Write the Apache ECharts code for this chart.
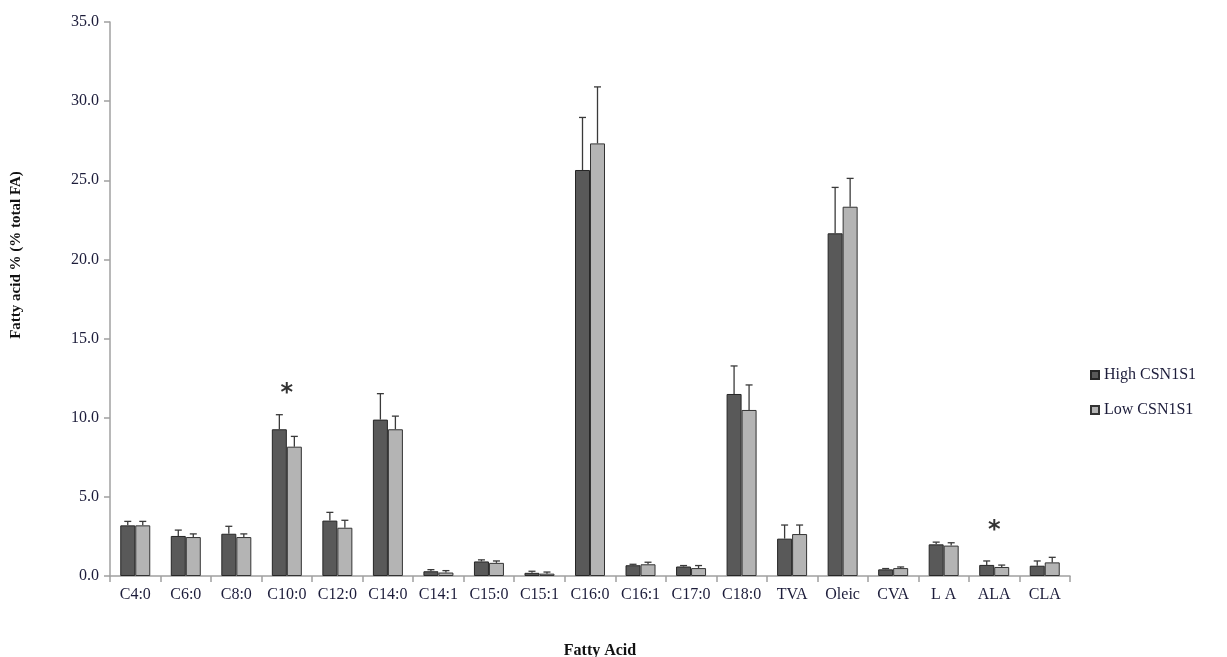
<!DOCTYPE html>
<html><head><meta charset="utf-8">
<script src="https://cdn.jsdelivr.net/npm/echarts@6/dist/echarts.min.js"></script>
<style>html,body{margin:0;padding:0;background:#fff}#c{width:1227px;height:657px}</style>
</head><body><div id="c"></div>
<script>
var categories = ['C4:0','C6:0','C8:0','C10:0','C12:0','C14:0','C14:1','C15:0','C15:1','C16:0','C16:1','C17:0','C18:0','TVA','Oleic','CVA','L A','ALA','CLA'];
var highValues = [3.2, 2.53, 2.67, 9.27, 3.5, 9.88, 0.3, 0.92, 0.2, 25.65, 0.68, 0.6, 11.5, 2.36, 21.65, 0.42, 2.0, 0.7, 0.65];
var highErr    = [0.25, 0.37, 0.47, 0.92, 0.52, 1.64, 0.1, 0.1, 0.1, 3.32, 0.06, 0.06, 1.77, 0.86, 2.9, 0.05, 0.14, 0.25, 0.3];
var lowValues  = [3.2, 2.46, 2.46, 8.17, 3.05, 9.27, 0.22, 0.83, 0.15, 27.33, 0.74, 0.5, 10.49, 2.65, 23.33, 0.5, 1.92, 0.57, 0.86];
var lowErr     = [0.25, 0.2, 0.2, 0.65, 0.47, 0.83, 0.12, 0.12, 0.1, 3.57, 0.13, 0.16, 1.58, 0.57, 1.79, 0.07, 0.18, 0.12, 0.32];
var seriesNames = ['High CSN1S1','Low CSN1S1'];
var sigCategories = ['C10:0','ALA'];
var sigValues = [11.8, 3.2];
var yTicks = [0,5,10,15,20,25,30,35];

var BW = 15;
var font = 'Liberation Serif';
var textColor = '#1c1c3a';

function errSeries(vals, errs, shift) {
  return {
    type: 'custom',
    silent: true,
    z: 5,
    data: vals.map(function(v, i){ return [i, v, v + errs[i]]; }),
    renderItem: function(params, api){
      var i = api.value(0);
      var p0 = api.coord([i, api.value(1)]);
      var p1 = api.coord([i, api.value(2)]);
      var x = p0[0] + shift;
      var st = {stroke:'#3a3a3a', lineWidth:1.3};
      return {type:'group', children:[
        {type:'line', shape:{x1:x, y1:p0[1], x2:x, y2:p1[1]}, style:st},
        {type:'line', shape:{x1:x-3.5, y1:p1[1], x2:x+3.5, y2:p1[1]}, style:st}
      ]};
    }
  };
}

var chart = echarts.init(document.getElementById('c'));
chart.setOption({
  animation:false,
  backgroundColor:'#fff',
  grid:{left:110, right:157, top:22, bottom:81, containLabel:false, outerBoundsMode:'none'},
  legend:{
    orient:'vertical', left:1085, top:362, itemWidth:8, itemHeight:8, itemGap:19,
    data:seriesNames,
    textStyle:{fontFamily:font, fontSize:16, color:textColor},
    icon:'rect'
  },
  xAxis:{
    type:'category', data:categories,
    name:'Fatty Acid', nameLocation:'middle', nameGap:67,
    nameTextStyle:{fontFamily:font, fontSize:16, fontWeight:'bold', color:'#111', padding:[0,0,0,20]},
    axisLine:{lineStyle:{color:'#a0a0a0', width:1.5}},
    axisTick:{show:true, length:6, lineStyle:{color:'#a0a0a0', width:1.5}},
    axisLabel:{fontFamily:font, fontSize:16, color:textColor, margin:11, interval:0}
  },
  yAxis:{
    type:'value', min:0, max:35, interval:5,
    name:'Fatty acid % (% total FA)', nameLocation:'middle', nameGap:86, nameRotate:90,
    nameTextStyle:{fontFamily:font, fontSize:15, fontWeight:'bold', color:'#111', padding:[0,0,0,88]},
    axisLine:{show:true, lineStyle:{color:'#a0a0a0', width:1.5}},
    axisTick:{show:true, length:6, lineStyle:{color:'#a0a0a0', width:1.5}},
    splitLine:{show:false},
    axisLabel:{fontFamily:font, fontSize:16, color:textColor, margin:11,
      formatter:function(v){ return v.toFixed(1); }}
  },
  series:[
    {name:seriesNames[0], type:'bar', data:highValues, barWidth:BW, barGap:'0%',
     itemStyle:{color:'#595959', borderColor:'#262626', borderWidth:1}},
    {name:seriesNames[1], type:'bar', data:lowValues, barWidth:BW, barGap:'0%',
     itemStyle:{color:'#b4b4b4', borderColor:'#333333', borderWidth:1}},
    errSeries(highValues, highErr, -BW/2),
    errSeries(lowValues, lowErr, BW/2),
    {type:'scatter', symbol:'circle', symbolSize:2, silent:true, z:6,
     itemStyle:{color:'rgba(0,0,0,0)'},
     data:sigCategories.map(function(c,i){ return [c, sigValues[i]]; }),
     label:{show:true, position:'inside', formatter:'*', fontFamily:'DejaVu Sans', fontSize:24, fontWeight:'bold', color:'#000', offset:[0,5]}}
  ]
});
</script>
</body></html>
